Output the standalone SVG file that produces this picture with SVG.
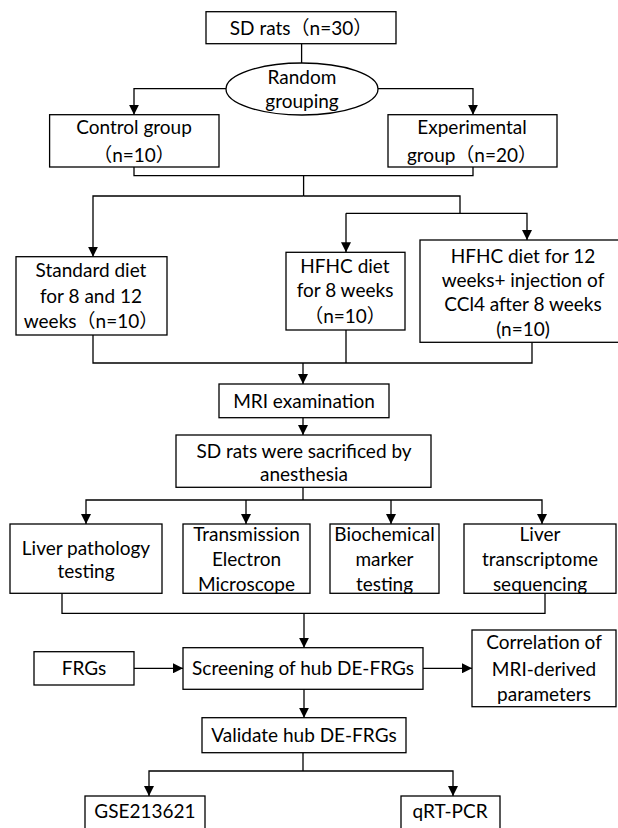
<svg xmlns="http://www.w3.org/2000/svg" width="618" height="828" viewBox="0 0 618 828">
<style>
.b{fill:#fff;stroke:#000;stroke-width:1.3}
.c{fill:none;stroke:#000;stroke-width:1.3}
text{font-family:Lato,"Noto Sans CJK SC",sans-serif;font-size:19px;fill:#000;text-anchor:middle}
</style>
<defs>
<marker id="a" viewBox="0 0 10 10" refX="10" refY="5" markerWidth="10" markerHeight="10" markerUnits="userSpaceOnUse" orient="auto"><path d="M0,0L10,5L0,10z" fill="#000"/></marker>
</defs>
<rect width="618" height="828" fill="#fff"/>
<g id="connectors" class="c">
<path d="M301.6,43.7V63"/>
<path d="M226,88.7H134V114.7" marker-end="url(#a)"/>
<path d="M378,88.7H473V114.7" marker-end="url(#a)"/>
<path d="M134,167V175.7H473V167M303.6,175.7V196"/>
<path d="M303.6,196H93V256.7" marker-end="url(#a)"/>
<path d="M303.6,196H460V213.3"/>
<path d="M346,213.3H527V240" marker-end="url(#a)"/>
<path d="M346,213.3V252.3" marker-end="url(#a)"/>
<path d="M93,335V363H532V342.3M346,330V363"/>
<path d="M303,363V384" marker-end="url(#a)"/>
<path d="M303,417.7V435" marker-end="url(#a)"/>
<path d="M303,487.3V500"/>
<path d="M303,500H86V524" marker-end="url(#a)"/>
<path d="M303,500H542V524" marker-end="url(#a)"/>
<path d="M246,500V524" marker-end="url(#a)"/>
<path d="M391,500V524" marker-end="url(#a)"/>
<path d="M62,593.3V613.3H545V593.3"/>
<path d="M304,613.3V647.7" marker-end="url(#a)"/>
<path d="M134,668.3H183" marker-end="url(#a)"/>
<path d="M423,668.3H472" marker-end="url(#a)"/>
<path d="M304,689.3V717.7" marker-end="url(#a)"/>
<path d="M303,752.7V771"/>
<path d="M303,771H149V796" marker-end="url(#a)"/>
<path d="M303,771H453V796" marker-end="url(#a)"/>
</g>
<g id="sd-rats"><rect class="b" x="206" y="11.7" width="190" height="32"/><text x="301" y="34.7">SD rats（n=30）</text></g>
<g id="random"><ellipse class="b" cx="302" cy="89" rx="76" ry="26"/><text x="302" y="83.7">Random</text><text x="302" y="108.4">grouping</text></g>
<g id="control"><rect class="b" x="49.6" y="114.7" width="169.4" height="52.3"/><text x="134" y="134.4">Control group</text><text x="134" y="161.7">（n=10）</text></g>
<g id="experimental"><rect class="b" x="388" y="114.7" width="169" height="52.3"/><text x="472" y="134.4">Experimental</text><text x="472" y="161.7">group（n=20）</text></g>
<g id="standard"><rect class="b" x="16" y="256.7" width="151" height="78.3"/><text x="91" y="277.4">Standard diet</text><text x="91" y="303.4">for 8 and 12</text><text x="91" y="328.4">weeks（n=10）</text></g>
<g id="hfhc8"><rect class="b" x="286" y="252.3" width="119" height="77.7"/><text x="345" y="272.7">HFHC diet</text><text x="345" y="297.4">for 8 weeks</text><text x="345" y="323.4">（n=10）</text></g>
<g id="hfhc12"><rect class="b" x="420" y="240" width="210" height="102.3"/><text x="523" y="262.7">HFHC diet for 12</text><text x="523" y="286.7">weeks+ injection of</text><text x="523" y="310.7">CCl4 after 8 weeks</text><text x="523" y="335.7">(n=10)</text></g>
<g id="mri"><rect class="b" x="219" y="384" width="170" height="33.7"/><text x="304" y="407.7">MRI examination</text></g>
<g id="sacrificed"><rect class="b" x="176" y="435" width="255" height="52.3"/><text x="304" y="457.7">SD rats were sacrificed by</text><text x="304" y="481">anesthesia</text></g>
<g id="pathology"><rect class="b" x="10" y="524" width="152" height="69.3"/><text x="86" y="555">Liver pathology</text><text x="86" y="578.4">testing</text></g>
<g id="tem"><rect class="b" x="183" y="524" width="127" height="69.3"/><text x="246.5" y="540.7">Transmission</text><text x="246.5" y="566">Electron</text><text x="246.5" y="591">Microscope</text></g>
<g id="biochem"><rect class="b" x="330" y="524" width="109" height="69.3"/><text x="384.5" y="540.7">Biochemical</text><text x="384.5" y="566">marker</text><text x="384.5" y="591">testing</text></g>
<g id="transcriptome"><rect class="b" x="464" y="524" width="152" height="69.3"/><text x="540" y="540.7">Liver</text><text x="540" y="566">transcriptome</text><text x="540" y="591">sequencing</text></g>
<g id="frgs"><rect class="b" x="34" y="651.7" width="100" height="33.3"/><text x="84" y="674.7">FRGs</text></g>
<g id="screening"><rect class="b" x="183" y="647.7" width="240" height="41.6"/><text x="303" y="674.7">Screening of hub DE-FRGs</text></g>
<g id="correlation"><rect class="b" x="472" y="630" width="144" height="76.7"/><text x="544" y="649.4">Correlation of</text><text x="544" y="676">MRI-derived</text><text x="544" y="701">parameters</text></g>
<g id="validate"><rect class="b" x="202" y="717.7" width="204" height="35"/><text x="304" y="741.7">Validate hub DE-FRGs</text></g>
<g id="gse"><rect class="b" x="85" y="796" width="120" height="40"/><text x="145" y="818.4">GSE213621</text></g>
<g id="qrtpcr"><rect class="b" x="401" y="796" width="99" height="40"/><text x="450" y="818.4">qRT-PCR</text></g>
</svg>
